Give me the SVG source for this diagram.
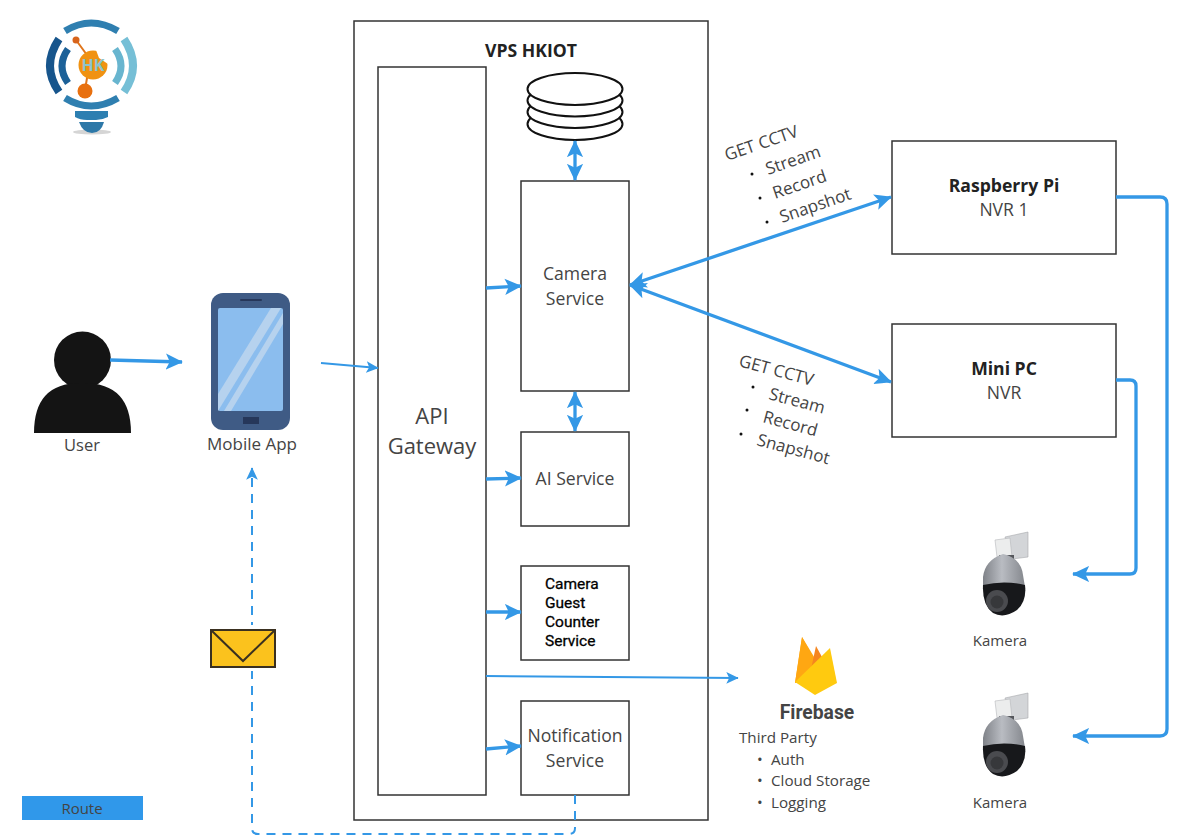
<svg xmlns="http://www.w3.org/2000/svg" width="1194" height="836" viewBox="0 0 1194 836">
<defs>
<style>
text{font-family:"Open Sans","Liberation Sans",sans-serif;fill:#444;font-size:17.6px}
.c{text-anchor:middle}
.box{fill:#fff;stroke:#333;stroke-width:1.5}
.conn{fill:none;stroke:#3498e6;stroke-width:3.300;stroke-linejoin:round}
.thin{stroke-width:2}
.dash{stroke-width:2;stroke-dasharray:9 7}
.b{font-weight:700;fill:#222}
.disk{fill:#fff;stroke:#111;stroke-width:2}
.rot{font-size:17px}
</style>
<marker id="a" viewBox="0 0 10 10" refX="9" refY="5" markerUnits="userSpaceOnUse" markerWidth="18" markerHeight="18" orient="auto-start-reverse"><path d="M0 0.5L9.500 5L0 9.500L2.200 5Z" fill="#3498e6"/></marker>
<marker id="as" viewBox="0 0 10 10" refX="9" refY="5" markerUnits="userSpaceOnUse" markerWidth="13" markerHeight="13" orient="auto-start-reverse"><path d="M0 0.5L9.500 5L0 9.500L2.200 5Z" fill="#3498e6"/></marker>
<linearGradient id="dome" x1="0" x2="1" y1="0" y2="0"><stop offset="0" stop-color="#7f8288"/><stop offset=".45" stop-color="#b9bcc2"/><stop offset="1" stop-color="#84878d"/></linearGradient>
<g id="cam">
<path d="M1005 8L1028 3V28L1012 30L1010 26Z" fill="#d3d5d8" stroke="#a8aaad" stroke-width=".6"/>
<path d="M995 11L1010 9L1012 28L997 28Z" fill="#eceded" stroke="#b5b7ba" stroke-width=".6"/>
<path d="M999 26H1014V34H999Z" fill="#55575c"/>
<path d="M983 48Q985 31 1003 25Q1021 29 1023 46L1025 58H983Z" fill="url(#dome)"/>
<path d="M983 56Q1004 51 1025 56Q1027 72 1017 81Q1004 90 993 84Q982 76 983 56Z" fill="#17181b"/>
<circle cx="997" cy="72" r="11" fill="#4a4b4f"/><circle cx="997" cy="73" r="6.500" fill="#37383b"/>
</g>
</defs>

<g id="logo">
<ellipse cx="92" cy="132" rx="19" ry="2.500" fill="#d5d5d5"/>
<g fill="none">
<path d="M65 31Q91 15 118 31" stroke-width="7" stroke="#2f7fb0"/>
<path d="M59 39Q41 66 59 92" stroke-width="8" stroke="#17558c"/>
<path d="M68 49Q56 66 68 83" stroke-width="7" stroke="#1c6198"/>
<path d="M124 39Q142 66 124 92" stroke-width="8" stroke="#76bfd6"/>
<path d="M115 49Q127 66 115 83" stroke-width="7" stroke="#68b5cf"/>
<path d="M65 98Q91 114 118 98" stroke-width="7" stroke="#2f7fb0"/>
</g>
<path d="M75 111H108V117Q102 120 96 120H87Q80 120 75 117Z" fill="#2d7fb1"/>
<path d="M79 122H104Q101 133 92 133Q83 133 79 122Z" fill="#2d78a8"/>
<path d="M76 40L87 55M88 72L85 90" stroke="#e0751b" stroke-width="2" fill="none"/>
<circle cx="76" cy="40" r="3.500" fill="#d8641b"/>
<circle cx="85" cy="91" r="7.500" fill="#e8700f"/>
<circle cx="93" cy="65" r="14.500" fill="#f09212"/>
<path d="M96 50Q108 53 108 64L99 58Z" fill="#fff"/>
<text x="93" y="71" class="c" style="font-size:16px;font-weight:700;fill:#8cc4cc">HK</text>
</g>

<g id="vps">
<rect class="box" x="354" y="21" width="354" height="799"/>
<text x="531" y="57" class="c b">VPS HKIOT</text>
</g>
<g id="gateway">
<rect class="box" x="378" y="67" width="108" height="728"/>
<text class="c" style="font-size:22px"><tspan x="432" y="424">API</tspan><tspan x="432" y="454">Gateway</tspan></text>
</g>
<g id="database">
<ellipse class="disk" cx="575" cy="124" rx="47.500" ry="16"/>
<ellipse class="disk" cx="575" cy="112" rx="47.500" ry="16"/>
<ellipse class="disk" cx="575" cy="100.500" rx="47.500" ry="16"/>
<ellipse class="disk" cx="575" cy="89" rx="47.500" ry="16"/>
</g>
<g id="camera-service">
<rect class="box" x="521" y="181" width="108" height="210"/>
<text class="c"><tspan x="575" y="280">Camera</tspan><tspan x="575" y="305">Service</tspan></text>
</g>
<g id="ai-service">
<rect class="box" x="521" y="432" width="108" height="94"/>
<text x="575" y="485" class="c">AI Service</text>
</g>
<g id="guest-service">
<rect class="box" x="521" y="566" width="108" height="94"/>
<text style="font-family:Roboto,'Liberation Sans',sans-serif;font-size:15.500px;font-weight:400;fill:#000;stroke:#000;stroke-width:.3"><tspan x="545" y="589">Camera</tspan><tspan x="545" y="608">Guest</tspan><tspan x="545" y="627">Counter</tspan><tspan x="545" y="646">Service</tspan></text>
</g>
<g id="notification-service">
<rect class="box" x="521" y="701" width="108" height="94"/>
<text class="c"><tspan x="575" y="742">Notification</tspan><tspan x="575" y="767">Service</tspan></text>
</g>
<g id="raspberry">
<rect class="box" x="892" y="141" width="224" height="113"/>
<text x="1004" y="192" class="c b">Raspberry Pi</text>
<text x="1004" y="216" class="c">NVR 1</text>
</g>
<g id="minipc">
<rect class="box" x="892" y="324" width="224" height="113"/>
<text x="1004" y="375" class="c b">Mini PC</text>
<text x="1004" y="399" class="c">NVR</text>
</g>

<g id="user">
<circle cx="82.500" cy="360" r="28.500" fill="#141414"/>
<path d="M34 433Q34 382 82 383Q131 382 131 433Z" fill="#141414"/>
<text x="82" y="451" class="c" style="font-size:16.500px">User</text>
</g>
<g id="mobile">
<rect x="211" y="293" width="79" height="137" rx="12" fill="#3f5b85"/>
<rect x="218" y="308" width="65" height="103" rx="2" fill="#8bbdee"/>
<path d="M218 394L271 308H281L218 411Z" fill="#b6d2ee"/>
<path d="M224 411L283 313V324L231 411Z" fill="#b6d2ee"/>
<rect x="240" y="299" width="22" height="2" rx="1" fill="#26375a"/>
<rect x="243" y="417" width="16" height="7" fill="#26375a"/>
<text x="252" y="450" class="c" style="font-size:17px">Mobile App</text>
</g>
<g id="firebase">
<path d="M795 683L802 637L822 670Z" fill="#ffa712"/>
<path d="M808 683L816 646L828 668Z" fill="#f5861f"/>
<path d="M795 683L802 637L812 655L806 680Z" fill="#ffa712"/>
<path d="M795 682L830 648L837 683L815 695Z" fill="#ffca0f"/>
<text x="817" y="719" class="c" style="font-family:Roboto,'Liberation Sans',sans-serif;font-size:19.300px;font-weight:700;fill:#444">Firebase</text>
<text style="font-size:15.200px"><tspan x="739" y="743">Third Party</tspan><tspan x="757" y="765">•</tspan><tspan x="771" y="765">Auth</tspan><tspan x="757" y="786">•</tspan><tspan x="771" y="786">Cloud Storage</tspan><tspan x="757" y="808">•</tspan><tspan x="771" y="808">Logging</tspan></text>
</g>
<g id="kamera-1">
<use href="#cam" y="529"/>
<text x="1000" y="646" class="c" style="font-size:15px">Kamera</text>
</g>
<g id="kamera-2">
<use href="#cam" y="690"/>
<text x="1000" y="808" class="c" style="font-size:15px">Kamera</text>
</g>
<g id="legend">
<rect x="22" y="796" width="121" height="24" fill="#3098ea"/>
<text x="82" y="814" class="c" style="font-size:15px">Route</text>
</g>

<text class="rot" transform="translate(727 161) rotate(-19)">GET CCTV</text>
<text class="rot" transform="translate(768 175) rotate(-19)">Stream</text>
<text class="rot" transform="translate(775 199) rotate(-19)">Record</text>
<text class="rot" transform="translate(782 223) rotate(-19)">Snapshot</text>
<circle cx="752" cy="174" r="1.500" fill="#111"/><circle cx="760" cy="198" r="1.500" fill="#111"/><circle cx="767" cy="222" r="1.500" fill="#111"/>
<text class="rot" transform="translate(738 366) rotate(15)">GET CCTV</text>
<text class="rot" transform="translate(768 399) rotate(15)">Stream</text>
<text class="rot" transform="translate(762 422) rotate(15)">Record</text>
<text class="rot" transform="translate(756 445) rotate(15)">Snapshot</text>
<circle cx="753" cy="387" r="1.500" fill="#111"/><circle cx="747" cy="410" r="1.500" fill="#111"/><circle cx="741" cy="434" r="1.500" fill="#111"/>

<g id="connectors">
<path class="conn" d="M110 360L182 362" marker-end="url(#a)"/>
<path class="conn thin" d="M321 363L378 368" marker-end="url(#as)"/>
<path class="conn" d="M486 288L521 286" marker-end="url(#a)"/>
<path class="conn" d="M486 479L521 478" marker-end="url(#a)"/>
<path class="conn" d="M486 612L521 612" marker-end="url(#a)"/>
<path class="conn" d="M486 749L521 746" marker-end="url(#a)"/>
<path class="conn thin" d="M486 676L738 678" marker-end="url(#as)"/>
<path class="conn" d="M575 141V180" marker-start="url(#a)" marker-end="url(#a)"/>
<path class="conn" d="M575 392V431" marker-start="url(#a)" marker-end="url(#a)"/>
<path class="conn" d="M630 285L891 197" marker-start="url(#a)" marker-end="url(#a)"/>
<path class="conn" d="M630 285L891 382" marker-start="url(#a)" marker-end="url(#a)"/>
<path class="conn" d="M1116 197H1160Q1167 197 1167 204V729Q1167 736 1160 736H1073" marker-end="url(#a)"/>
<path class="conn" d="M1116 380H1130Q1136 380 1136 386V568Q1136 574 1130 574H1073" marker-end="url(#a)"/>
<path class="conn dash" d="M575 795V828Q575 834 569 834H258Q252 834 252 828V468" marker-end="url(#as)"/>
</g>
<g id="envelope">
<rect x="204" y="625" width="78" height="46" fill="#fff"/>
<rect x="211" y="630" width="64" height="37" fill="#fbc21d" stroke="#3a3020" stroke-width="2"/>
<path d="M212 631L243 661L274 631" fill="none" stroke="#3a3020" stroke-width="2"/>
</g>
</svg>
